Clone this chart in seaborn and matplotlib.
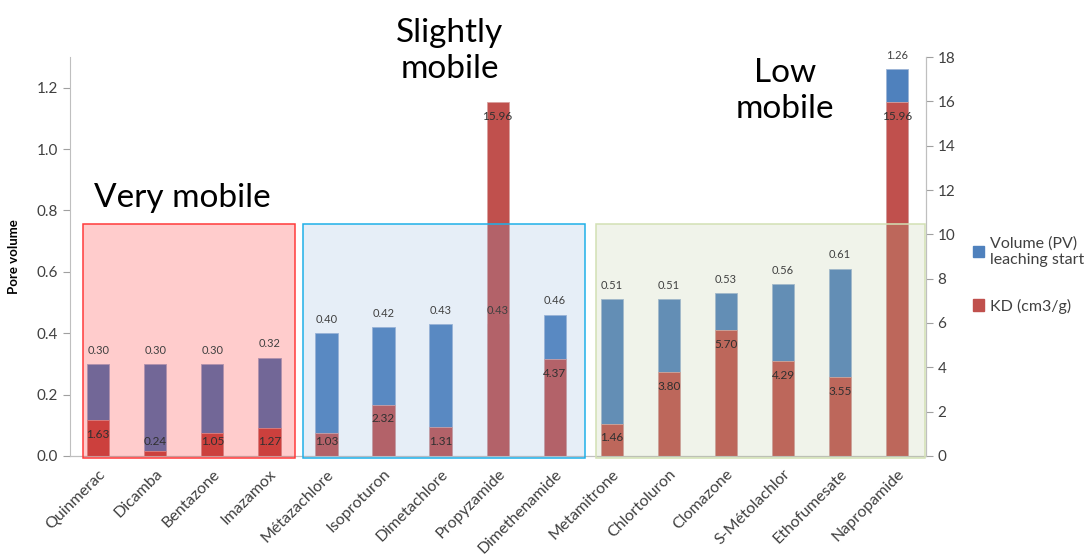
import matplotlib
matplotlib.use("Agg")
import matplotlib.pyplot as plt
import matplotlib.patches as mpatches
import seaborn as sns
import pandas as pd

# Chart data
compounds = ["Quinmerac", "Dicamba", "Bentazone", "Imazamox", "Métazachlore",
             "Isoproturon", "Dimetachlore", "Propyzamide", "Dimethenamide",
             "Metamitrone", "Chlortoluron", "Clomazone", "S-Métolachlor",
             "Ethofumesate", "Napropamide"]
pore_volume = [0.30, 0.30, 0.30, 0.32, 0.40, 0.42, 0.43, 0.43, 0.46,
               0.51, 0.51, 0.53, 0.56, 0.61, 1.26]
kd_values = [1.63, 0.24, 1.05, 1.27, 1.03, 2.32, 1.31, 15.96, 4.37,
             1.46, 3.80, 5.70, 4.29, 3.55, 15.96]

# mobility groups: (label, first index, last index, fill, edge)
groups = [
    ("Very mobile", 0, 3, (1.0, 0.0, 0.0), "#FF3B3B"),
    ("Slightly\nmobile", 4, 8, (0.51, 0.67, 0.86), "#1FB0E8"),
    ("Low\nmobile", 9, 14, (0.71, 0.78, 0.59), "#D2E0B4"),
]

df = pd.DataFrame({"compound": compounds, "pv": pore_volume, "kd": kd_values})

sns.set_style("white")
plt.rcParams['font.family'] = ['Lato', 'DejaVu Sans']

BLUE = "#4F81BD"
RED = "#C0504D"
GRAY = "#404040"

fig = plt.figure(figsize=(10.89, 5.54), dpi=100)
ax = fig.add_axes([0.064, 0.177, 0.786, 0.72])
ax2 = ax.twinx()

sns.barplot(data=df, x="compound", y="pv", order=compounds, color=BLUE,
            saturation=1, width=0.39, ax=ax, edgecolor="#9DB5D6", linewidth=0.6)
sns.barplot(data=df, x="compound", y="kd", order=compounds, color=RED,
            saturation=1, width=0.39, ax=ax2, edgecolor="#D9A09E", linewidth=0.6)

ax.set_xlim(-0.5, 14.5)
ax.set_ylim(0, 1.3)
ax2.set_ylim(0, 18)
ax.set_yticks([0, 0.2, 0.4, 0.6, 0.8, 1.0, 1.2])
ax.set_yticklabels([f"{t:.1f}" for t in ax.get_yticks()])
ax2.set_yticks(range(0, 19, 2))

ax.set_xticks(range(len(compounds)))
ax.set_xticklabels(compounds, rotation=45, ha="right", rotation_mode="anchor")
ax.set_xticks([i + 0.5 for i in range(-1, len(compounds))], minor=True)
ax.tick_params(axis="x", which="major", length=0, labelsize=11.5, labelcolor=GRAY, pad=8)
ax.tick_params(axis="x", which="minor", length=5, color="#A0A0A0", direction="out")
ax.tick_params(axis="y", length=5, color="#A0A0A0", labelsize=11, labelcolor=GRAY, direction="out")
ax2.tick_params(axis="y", length=5, color="#A0A0A0", labelsize=11, labelcolor=GRAY, direction="out")
ax.set_xlabel("")
ax2.set_xlabel("")
ax2.set_ylabel("")
ax.set_ylabel("Pore volume", fontsize=9.5, fontweight="bold", color="black", labelpad=12)

for a in (ax, ax2):
    a.spines["top"].set_visible(False)
    for s in ("left", "right", "bottom"):
        a.spines[s].set_color("#BFBFBF")
ax2.spines["left"].set_visible(False)

# value labels
for i, v in enumerate(pore_volume):
    ax2.annotate(f"{v:.2f}", xy=(i, v), xycoords=ax.transData, xytext=(0, 10),
                 textcoords="offset points", ha="center", va="center",
                 fontsize=8, color=GRAY, zorder=10)
for i, k in enumerate(kd_values):
    ax2.text(i, max(k - 0.65, 0.63), f"{k:.2f}", ha="center", va="center",
             fontsize=8.5, color="#303030", zorder=10)

# group overlays and titles
title_pos = [(1.47, 0.84), (6.16, 1.32), (12.03, 1.19)]
for (name, lo, hi, fill, edge), (tx, ty) in zip(groups, title_pos):
    x0 = lo - 0.26 if lo == 0 else lo - 0.41 if lo == 4 else lo - 0.28
    x1 = hi + 0.45 if hi == 3 else hi + 0.53 if hi == 8 else hi + 0.48
    rect = mpatches.Rectangle((x0, -0.008), x1 - x0, 0.764, transform=ax.transData,
                              facecolor=(*fill, 0.2), edgecolor=edge, linewidth=1.1,
                              zorder=5, clip_on=False)
    ax2.add_patch(rect)
    ax.text(tx, ty, name, ha="center", va="center", fontsize=24,
            color="black", linespacing=1.25, clip_on=False)

handles = [mpatches.Patch(color=BLUE, label="Volume (PV)\nleaching start"),
           mpatches.Patch(color=RED, label="KD (cm3/g)")]
fig.legend(handles=handles, loc="upper left", bbox_to_anchor=(0.88, 0.6),
           frameon=False, fontsize=11.5, handlelength=0.7, handleheight=0.7,
           handletextpad=0.4, labelspacing=2.0, labelcolor=GRAY)

fig.savefig("out.png", dpi=100)
